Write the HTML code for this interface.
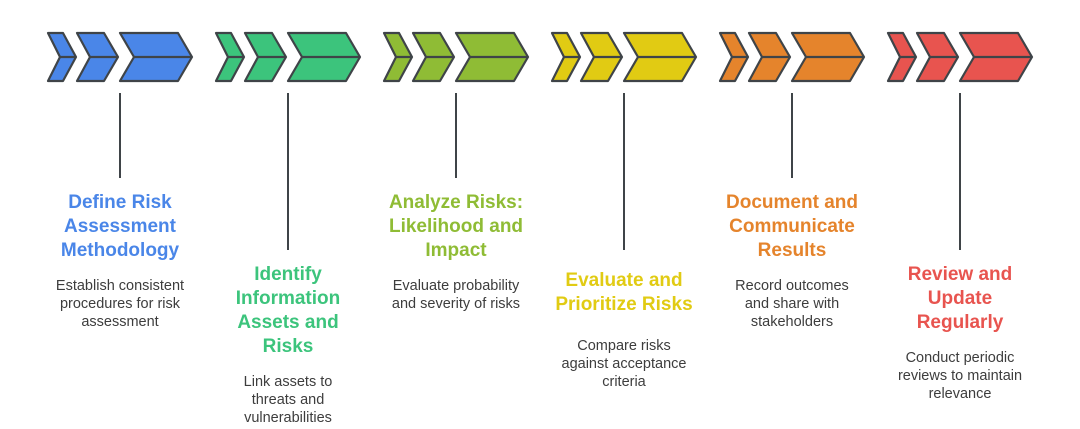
<!DOCTYPE html>
<html><head><meta charset="utf-8"><style>
html,body{margin:0;padding:0;background:#fff;}
svg{display:block}
.t{font-family:"Liberation Sans",sans-serif;font-weight:bold;font-size:19px;text-anchor:middle}
.d{font-family:"Liberation Sans",sans-serif;font-size:14.5px;fill:#3d3d3d;text-anchor:middle}
</style></head><body>
<svg width="1080" height="429" viewBox="0 0 1080 429" xmlns="http://www.w3.org/2000/svg">
<defs>
<g id="chev" stroke="#3f4448" stroke-width="2.2" stroke-linejoin="round">
<path d="M48,33 L63,33 L76,57 L63,81 L48,81 L60,57 Z"/>
<path d="M77,33 L104,33 L118,57 L104,81 L77,81 L90,57 Z"/>
<path d="M120,33 L178,33 L192,57 L178,81 L120,81 L134,57 Z"/>
<path d="M60,57 L76,57 M90,57 L118,57 M134,57 L192,57" fill="none"/>
</g>
</defs>
<use href="#chev" fill="#4a86e8"/>
<use href="#chev" fill="#3cc47c" x="168"/>
<use href="#chev" fill="#8fbc35" x="336"/>
<use href="#chev" fill="#e1cb13" x="504"/>
<use href="#chev" fill="#e5842c" x="672"/>
<use href="#chev" fill="#e8544f" x="840"/>
<g stroke="#3f4448" stroke-width="2">
<line x1="120" y1="93" x2="120" y2="178"/>
<line x1="288" y1="93" x2="288" y2="250"/>
<line x1="456" y1="93" x2="456" y2="178"/>
<line x1="624" y1="93" x2="624" y2="250"/>
<line x1="792" y1="93" x2="792" y2="178"/>
<line x1="960" y1="93" x2="960" y2="250"/>
</g>
<g class="t" fill="#4a86e8">
<text x="120" y="208">Define Risk</text><text x="120" y="232">Assessment</text><text x="120" y="256">Methodology</text></g>
<g class="d"><text x="120" y="290">Establish consistent</text><text x="120" y="308">procedures for risk</text><text x="120" y="326">assessment</text></g>
<g class="t" fill="#3cc47c">
<text x="288" y="280">Identify</text><text x="288" y="304">Information</text><text x="288" y="328">Assets and</text><text x="288" y="352">Risks</text></g>
<g class="d"><text x="288" y="386">Link assets to</text><text x="288" y="404">threats and</text><text x="288" y="422">vulnerabilities</text></g>
<g class="t" fill="#8fbc35">
<text x="456" y="208">Analyze Risks:</text><text x="456" y="232">Likelihood and</text><text x="456" y="256">Impact</text></g>
<g class="d"><text x="456" y="290">Evaluate probability</text><text x="456" y="308">and severity of risks</text></g>
<g class="t" fill="#e1cb13">
<text x="624" y="286">Evaluate and</text><text x="624" y="310">Prioritize Risks</text></g>
<g class="d"><text x="624" y="350">Compare risks</text><text x="624" y="368">against acceptance</text><text x="624" y="386">criteria</text></g>
<g class="t" fill="#e5842c">
<text x="792" y="208">Document and</text><text x="792" y="232">Communicate</text><text x="792" y="256">Results</text></g>
<g class="d"><text x="792" y="290">Record outcomes</text><text x="792" y="308">and share with</text><text x="792" y="326">stakeholders</text></g>
<g class="t" fill="#e8544f">
<text x="960" y="280">Review and</text><text x="960" y="304">Update</text><text x="960" y="328">Regularly</text></g>
<g class="d"><text x="960" y="362">Conduct periodic</text><text x="960" y="380">reviews to maintain</text><text x="960" y="398">relevance</text></g>
</svg>
</body></html>
